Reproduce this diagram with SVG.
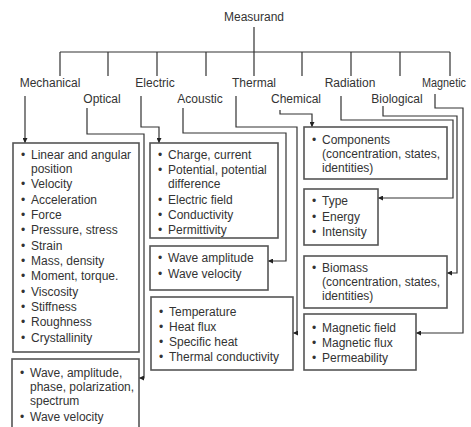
<svg xmlns="http://www.w3.org/2000/svg" width="471" height="427" viewBox="0 0 471 427">
<style>
text{font-family:"Liberation Sans",Arial,sans-serif;font-size:12px;fill:#333}
.box{fill:#fff;stroke:#555;stroke-width:1.6}
.ln{fill:none;stroke:#333;stroke-width:1.2}
.ar{fill:none;stroke:#333;stroke-width:1.2;marker-end:url(#ah)}
</style>
<defs>
<marker id="ah" viewBox="0 0 6 6" refX="6" refY="3" markerWidth="5" markerHeight="5" orient="auto" markerUnits="userSpaceOnUse"><path d="M0,0 L6,3 L0,6 z" fill="#222"/></marker>
</defs>
<rect width="471" height="427" fill="#fff"/>
<g id="connectors">
<path class="ln" d="M254,27 V52 M60,52 H450 M60,52 V76 M108,52 V76 M157,52 V76 M206,52 V76 M254,52 V76 M302,52 V76 M351,52 V76 M400,52 V76 M450,52 V76"/>
<path class="ar" d="M25,96 V143"/>
<path class="ar" d="M87,108 V134 H144 V378 H139"/>
<path class="ar" d="M141,96 V127 H159 V143"/>
<path class="ar" d="M183,108 V133 H286 V261 H268"/>
<path class="ar" d="M236,96 V127 H297 V333 H293"/>
<path class="ar" d="M280,110 V114 H312 V127"/>
<path class="ar" d="M341,96 V120 H453 V198 H378"/>
<path class="ar" d="M383,106 V116 H457 V273 H447"/>
<path class="ar" d="M435,94 V108 H463 V333 H416"/>
</g>
<g id="measurand"><text x="254" y="21" text-anchor="middle">Measurand</text></g>
<g id="labels">
<text x="50" y="87" text-anchor="middle">Mechanical</text>
<text x="102" y="103" text-anchor="middle">Optical</text>
<text x="155" y="87" text-anchor="middle">Electric</text>
<text x="200" y="103" text-anchor="middle">Acoustic</text>
<text x="254" y="87" text-anchor="middle">Thermal</text>
<text x="296" y="103" text-anchor="middle">Chemical</text>
<text x="350" y="87" text-anchor="middle">Radiation</text>
<text x="397" y="103" text-anchor="middle">Biological</text>
<text x="422" y="87" textLength="44" lengthAdjust="spacingAndGlyphs">Magnetic</text>
</g>
<g id="mechanical-box">
<rect class="box" x="13" y="143" width="126" height="209"/>
<text x="21" y="159">•</text><text x="31" y="159">Linear and angular</text>
<text x="31" y="173">position</text>
<text x="21" y="188">•</text><text x="31" y="188">Velocity</text>
<text x="21" y="204">•</text><text x="31" y="204">Acceleration</text>
<text x="21" y="219">•</text><text x="31" y="219">Force</text>
<text x="21" y="234">•</text><text x="31" y="234">Pressure, stress</text>
<text x="21" y="250">•</text><text x="31" y="250">Strain</text>
<text x="21" y="265">•</text><text x="31" y="265">Mass, density</text>
<text x="21" y="280">•</text><text x="31" y="280">Moment, torque.</text>
<text x="21" y="296">•</text><text x="31" y="296">Viscosity</text>
<text x="21" y="311">•</text><text x="31" y="311">Stiffness</text>
<text x="21" y="326">•</text><text x="31" y="326">Roughness</text>
<text x="21" y="342">•</text><text x="31" y="342">Crystallinity</text>
</g>
<g id="optical-box">
<rect class="box" x="12" y="359" width="127" height="90"/>
<text x="20" y="377">•</text><text x="30" y="377">Wave, amplitude,</text>
<text x="30" y="391">phase, polarization,</text>
<text x="30" y="405">spectrum</text>
<text x="20" y="421">•</text><text x="30" y="421">Wave velocity</text>
</g>
<g id="electric-box">
<rect class="box" x="150" y="143" width="128" height="95"/>
<text x="158" y="159">•</text><text x="168" y="159">Charge, current</text>
<text x="158" y="174">•</text><text x="168" y="174">Potential, potential</text>
<text x="168" y="188">difference</text>
<text x="158" y="204">•</text><text x="168" y="204">Electric field</text>
<text x="158" y="219">•</text><text x="168" y="219">Conductivity</text>
<text x="158" y="234">•</text><text x="168" y="234">Permittivity</text>
</g>
<g id="acoustic-box">
<rect class="box" x="150" y="246" width="118" height="44"/>
<text x="158" y="262">•</text><text x="168" y="262">Wave amplitude</text>
<text x="158" y="278">•</text><text x="168" y="278">Wave velocity</text>
</g>
<g id="thermal-box">
<rect class="box" x="151" y="297" width="142" height="73"/>
<text x="159" y="316">•</text><text x="169" y="316">Temperature</text>
<text x="159" y="331">•</text><text x="169" y="331">Heat flux</text>
<text x="159" y="346">•</text><text x="169" y="346">Specific heat</text>
<text x="159" y="361">•</text><text x="169" y="361">Thermal conductivity</text>
</g>
<g id="chemical-box">
<rect class="box" x="304" y="127" width="143" height="52"/>
<text x="312" y="144">•</text><text x="322" y="144">Components</text>
<text x="322" y="158">(concentration, states,</text>
<text x="322" y="172">identities)</text>
</g>
<g id="radiation-box">
<rect class="box" x="304" y="189" width="74" height="56"/>
<text x="312" y="205">•</text><text x="322" y="205">Type</text>
<text x="312" y="221">•</text><text x="322" y="221">Energy</text>
<text x="312" y="236">•</text><text x="322" y="236">Intensity</text>
</g>
<g id="biological-box">
<rect class="box" x="304" y="256" width="143" height="52"/>
<text x="312" y="272">•</text><text x="322" y="272">Biomass</text>
<text x="322" y="286">(concentration, states,</text>
<text x="322" y="300">identities)</text>
</g>
<g id="magnetic-box">
<rect class="box" x="304" y="314" width="112" height="56"/>
<text x="312" y="332">•</text><text x="322" y="332">Magnetic field</text>
<text x="312" y="347">•</text><text x="322" y="347">Magnetic flux</text>
<text x="312" y="362">•</text><text x="322" y="362">Permeability</text>
</g>
</svg>
